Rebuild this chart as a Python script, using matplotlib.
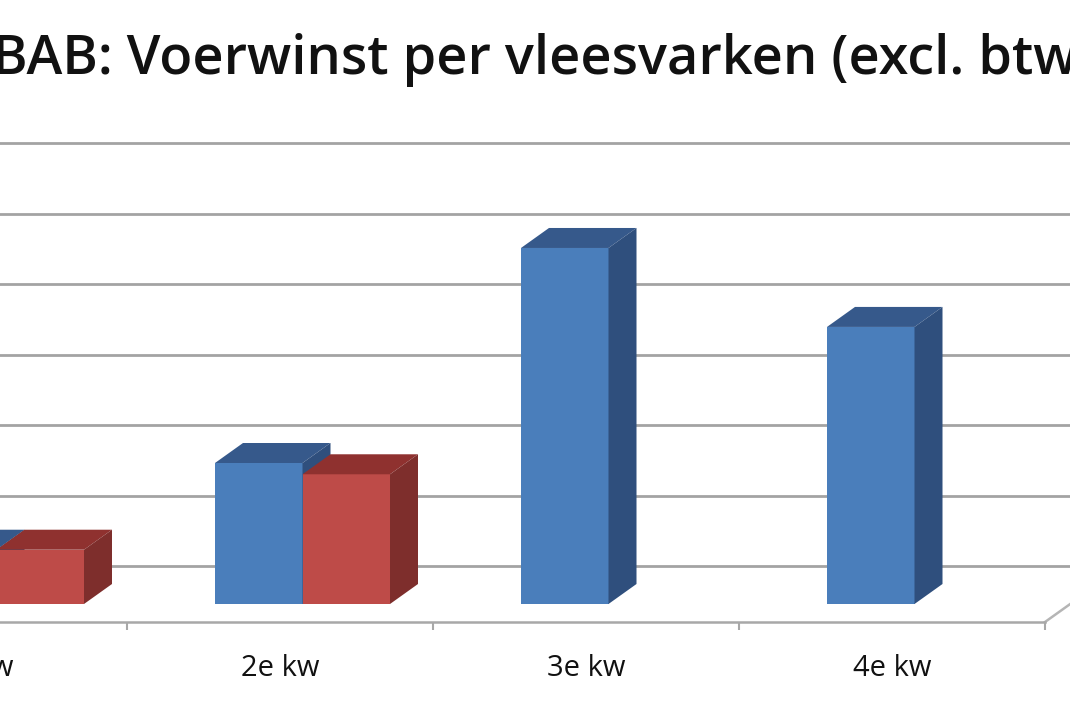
import matplotlib
matplotlib.use('Agg')
import matplotlib.pyplot as plt
from matplotlib.patches import Polygon, Rectangle

# Data (red series has no bars for the last two quarters)
categories = ['1e kw', '2e kw', '3e kw', '4e kw']
blue_values = [0.77, 2.0, 5.05, 3.93]
red_values = [0.77, 1.84, 0, 0]
grid_levels = [0, 1, 2, 3, 4, 5, 6]
title_text = 'BAB: Voerwinst per vleesvarken (excl. btw)'

plt.rcParams['font.family'] = ['Open Sans', 'DejaVu Sans']

fig = plt.figure(figsize=(10.7, 7.13), dpi=100)
ax = fig.add_axes([0, 0, 1, 1])

# 1 x unit = 306 px, 1 y unit = 70.5 px
x_unit = 306
y_unit = 70.5
xlim = (1 - 280 / x_unit, 1 + (1070 - 280) / x_unit)
ylim = (-147 / y_unit, 566 / y_unit)

# fake 3D depth and bar layout
depth_x = 28 / x_unit
depth_y = 20 / y_unit
bar_width = 87.5 / x_unit
bar_left = -65 / x_unit
bar_base = -38 / y_unit
floor = -56 / y_unit
label_y = -102 / y_unit
axis_end = 3.5


def draw_bar(x, value, front, top, side, z):
    y0 = bar_base
    y1 = bar_base + value
    ax.add_patch(Rectangle((x, y0), bar_width, value, fc=front, ec='none', zorder=z))
    ax.add_patch(Polygon([(x, y1), (x + bar_width, y1),
                          (x + bar_width + depth_x, y1 + depth_y), (x + depth_x, y1 + depth_y)],
                         fc=top, ec='none', zorder=z))
    ax.add_patch(Polygon([(x + bar_width, y0), (x + bar_width + depth_x, y0 + depth_y),
                          (x + bar_width + depth_x, y1 + depth_y), (x + bar_width, y1)],
                         fc=side, ec='none', zorder=z))


for i in range(len(categories)):
    draw_bar(i + bar_left, blue_values[i], '#4a7ebb', '#36598b', '#2f4f7d', 3)
    if red_values[i] > 0:
        draw_bar(i + bar_left + bar_width, red_values[i], '#be4b48', '#8f312f', '#7e2e2c', 4)

# gridlines on the back wall
ax.set_yticks(grid_levels)
ax.set_yticklabels([])
ax.grid(True, axis='y', color='#a3a3a3', lw=2.0, zorder=1)
ax.set_axisbelow(True)

# floor line with ticks between the quarters
for name in ['top', 'left', 'right']:
    ax.spines[name].set_visible(False)
ax.set_xticks([i + 0.5 for i in range(0, 4)])
ax.set_xticklabels([])
ax.tick_params(axis='x', length=6, width=1.5, color='#a8a8a8')
ax.tick_params(axis='y', length=0)
ax.plot([axis_end, axis_end + depth_x], [floor, floor + depth_y], color='#b5b5b5', lw=1.8, zorder=2)

# the first label sits partly outside the view, a tick label would be dropped there
for i, name in enumerate(categories):
    ax.text(i, label_y, name, fontsize=21, color='#111111', ha='center', va='center')

# limits last, the ticks above would widen them otherwise
ax.set_xlim(xlim)
ax.set_ylim(ylim)
ax.spines['bottom'].set_position(('data', floor))
ax.spines['bottom'].set_bounds(xlim[0], axis_end)
ax.spines['bottom'].set_color('#a8a8a8')
ax.spines['bottom'].set_linewidth(1.8)

fig.text(-8 / 1070, 1 - 74 / 713, title_text, fontsize=39, fontweight='semibold',
         color='#111111', ha='left', va='baseline')

fig.savefig('out.png', dpi=100)
